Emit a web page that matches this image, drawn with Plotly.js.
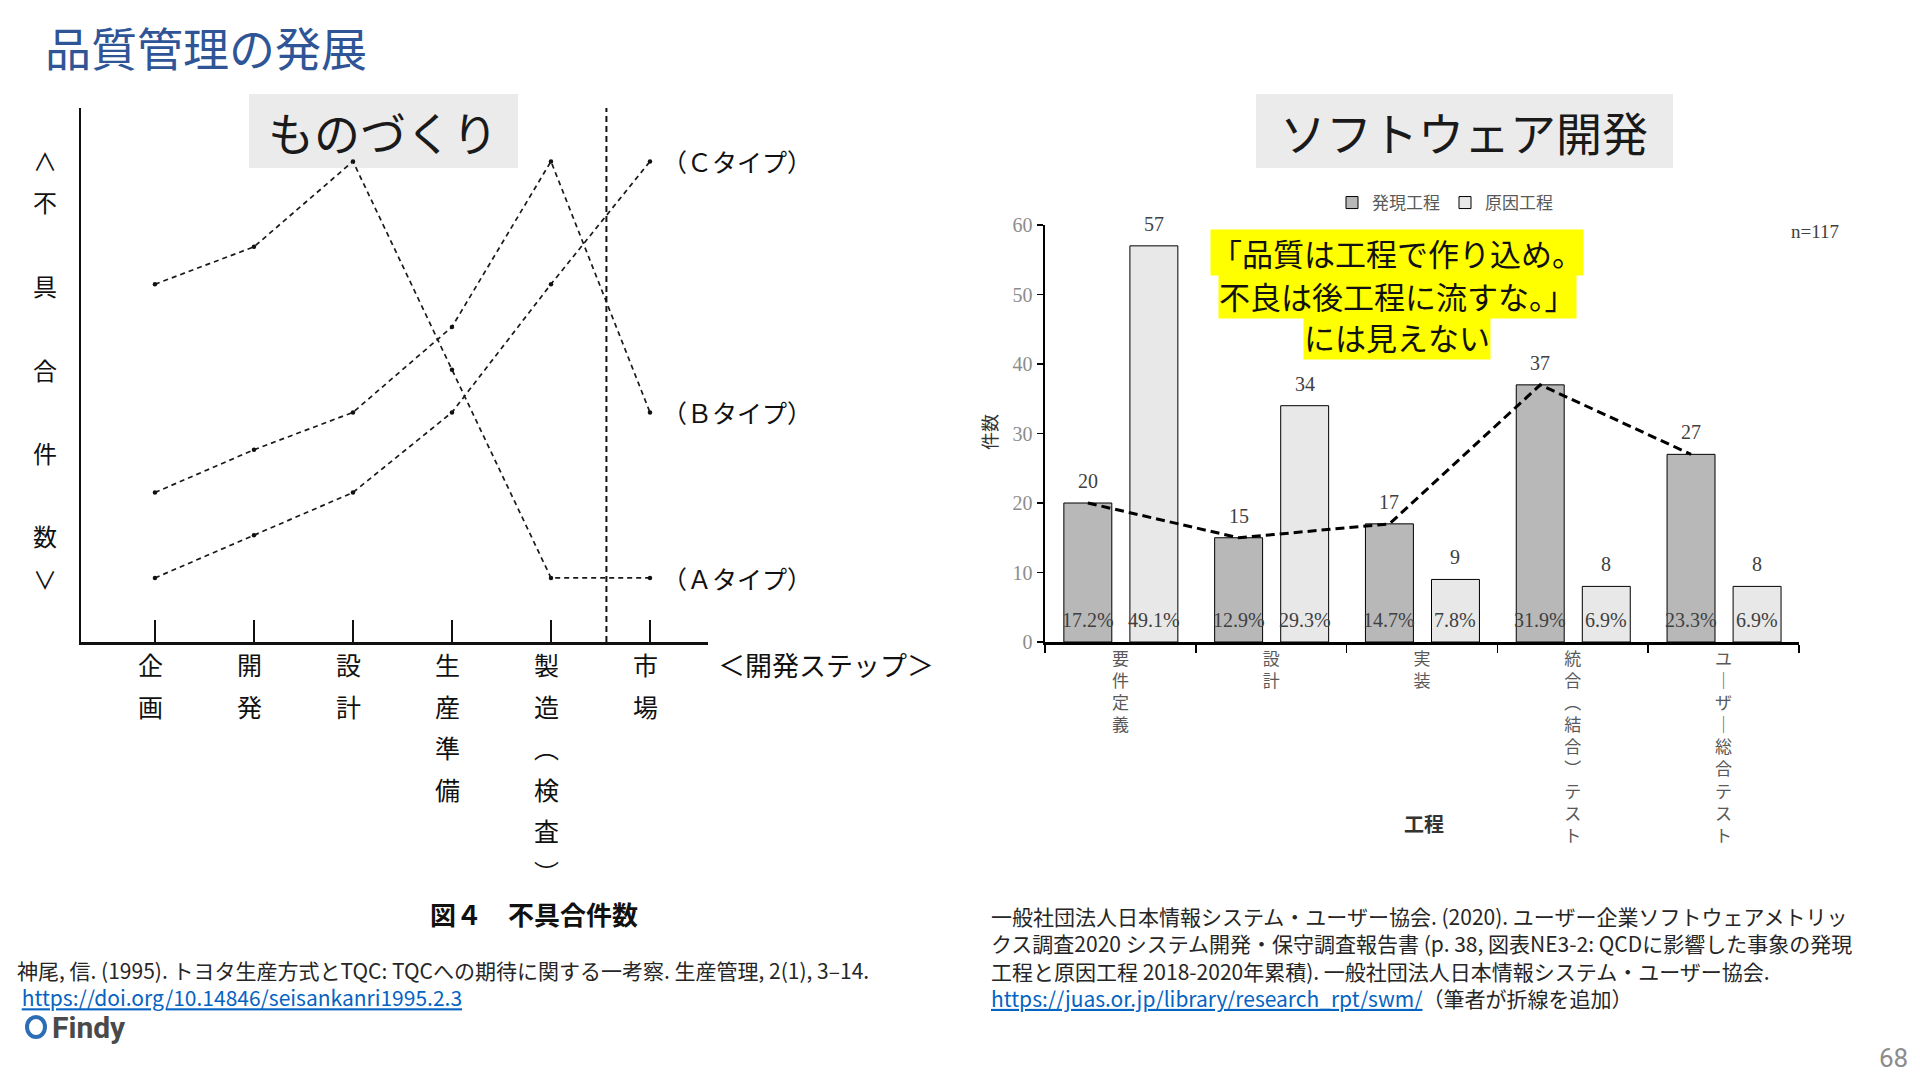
<!DOCTYPE html>
<html><head><meta charset="utf-8">
<script src="https://cdn.plot.ly/plotly-3.0.1.min.js"></script>
<style>html,body{margin:0;padding:0;background:#fff;}#chart{width:1920px;height:1080px;}</style>
</head><body><div id="chart"></div>
<script>
// ---------------- data ----------------
const slideTitle = '品質管理の発展';
const leftHeading = 'ものづくり';
const rightHeading = 'ソフトウェア開発';

const mfgSteps = ['企画', '開発', '設計', '生産準備', '製造（検査）', '市場'];
const mfgTypeNames = ['（Ａタイプ）', '（Ｂタイプ）', '（Ｃタイプ）'];
const mfgTypeA = [67, 74, 90, 51, 12, 12];
const mfgTypeB = [28, 36, 43, 59, 90, 43];
const mfgTypeC = [12, 20, 28, 43, 67, 90];
const mfgShipBoundary = 4.56;
const mfgYLabel = '＜不具合件数＞';
const mfgXLabel = '＜開発ステップ＞';
const mfgCaption = '図４　不具合件数';

const swPhases = ['要件定義', '設計', '実装', '統合（結合）テスト', 'ユーザー総合テスト'];
const swSeries = ['発現工程', '原因工程'];
const swFound = [20, 15, 17, 37, 27];
const swCause = [57, 34, 9, 8, 8];
const swFoundPct = [17.2, 12.9, 14.7, 31.9, 23.3];
const swCausePct = [49.1, 29.3, 7.8, 6.9, 6.9];
const swN = 117;
const swYTitle = '件数';
const swXTitle = '工程';
const swCallout = ['「品質は工程で作り込め。', '不良は後工程に流すな。」', 'には見えない'];

const citeLeft = ['神尾, 信. (1995). トヨタ生産方式とTQC: TQCへの期待に関する一考察. 生産管理, 2(1), 3–14.',
                  'https://doi.org/10.14846/seisankanri1995.2.3'];
const citeRight = ['一般社団法人日本情報システム・ユーザー協会. (2020). ユーザー企業ソフトウェアメトリッ',
                   'クス調査2020 システム開発・保守調査報告書 (p. 38, 図表NE3-2: QCDに影響した事象の発現',
                   '工程と原因工程 2018-2020年累積). 一般社団法人日本情報システム・ユーザー協会.'];
const citeRightUrl = 'https://juas.or.jp/library/research_rpt/swm/';
const citeRightNote = '（筆者が折線を追加）';
const logoText = 'Findy';
const pageNo = '68';

// ---------------- helpers ----------------
const W = 1920, H = 1080;
const px = x => x / W;
const py = y => 1 - y / H;
const JP = 'Noto Sans CJK JP';
const SERIF = 'Liberation Serif';
const vmap = {'（': '︵', '）': '︶', 'ー': '｜'};
const vert = s => Array.from(s).map(c => vmap[c] || c);
const ymap = {'＜': '∧', '＞': '∨'};
const link = u => '<span style="color:#0563C1"><u>' + u + '</u></span>';

const BAR_W = 0.318, FOUND_OFF = -0.375, CAUSE_OFF = 0.063;

// ---------------- traces ----------------
const traces = [];
const mfgLine = {color: '#1a1a1a', width: 1.7, dash: '5px,4px'};
[mfgTypeA, mfgTypeB, mfgTypeC].forEach((vals, k) => {
  traces.push({type: 'scatter', mode: 'lines+markers', x: mfgSteps, y: vals,
    xaxis: 'x', yaxis: 'y', name: mfgTypeNames[k], showlegend: false,
    line: mfgLine, marker: {size: 4.5, color: '#111'}, hoverinfo: 'skip'});
});

traces.push({type: 'bar', x: swPhases, y: swFound, name: swSeries[0], xaxis: 'x2', yaxis: 'y2',
  width: BAR_W, offset: FOUND_OFF, marker: {color: '#B8B8B8', line: {color: '#000', width: 1}}});
traces.push({type: 'bar', x: swPhases, y: swCause, name: swSeries[1], xaxis: 'x2', yaxis: 'y2',
  width: BAR_W, offset: CAUSE_OFF, marker: {color: '#E8E8E8', line: {color: '#000', width: 1}}});
traces.push({type: 'scatter', mode: 'lines', x: swFound.map((_, i) => i + FOUND_OFF + BAR_W / 2), y: swFound,
  xaxis: 'x3', yaxis: 'y2', showlegend: false, line: {color: '#000', width: 3, dash: '9px,5px'}, hoverinfo: 'skip'});

// ---------------- annotations ----------------
const ann = [];
const txt = (x, y, text, size, opts) => Object.assign({xref: 'paper', yref: 'paper', x: px(x), y: py(y), text: text,
  showarrow: false, xanchor: 'center', yanchor: 'middle', font: {family: JP, size: size, color: '#1a1a1a'}}, opts || {});

ann.push(txt(43, 46, slideTitle, 46, {xanchor: 'left', font: {family: JP, size: 46, color: '#2F5597'}}));
ann.push(txt(383, 131, leftHeading, 46));
ann.push(txt(1464, 131, rightHeading, 46));

// left: y label (vertical)
const yRaw = Array.from(mfgYLabel);
let yy = 160;
yRaw.forEach((c, j) => {
  if (j > 0) yy += (ymap[c] || ymap[yRaw[j - 1]]) ? 42 : 83.5;
  ann.push(txt(45, yy, ymap[c] || c, 24, {font: {family: JP, size: 24, color: '#111'}}));
});
// left: category labels (vertical)
mfgSteps.forEach((s, i) => {
  vert(s).forEach((c, j) => {
    ann.push({xref: 'x', yref: 'paper', x: i, y: py(664 + 41.5 * j), text: c, showarrow: false,
      xanchor: 'center', yanchor: 'middle', xshift: -4, font: {family: JP, size: 25, color: '#111'}});
  });
});
ann.push(txt(716, 664, mfgXLabel, 27, {xanchor: 'left', font: {family: JP, size: 27, color: '#111'}}));
// left: type labels at the end of each line
[mfgTypeA, mfgTypeB, mfgTypeC].forEach((vals, k) => {
  ann.push({xref: 'x', yref: 'y', x: mfgSteps.length - 1, y: vals[vals.length - 1], text: mfgTypeNames[k],
    showarrow: false, xanchor: 'left', yanchor: 'middle', xshift: 10, font: {family: JP, size: 25, color: '#111'}});
});
ann.push(txt(534, 913, '<b>' + mfgCaption + '</b>', 26, {font: {family: JP, size: 26, color: '#111'}}));

// right: value labels and percent labels
const barLabel = (xc, y, shift, text, size) => ({xref: 'x3', yref: 'y2', x: xc, y: y, yshift: shift, text: text,
  showarrow: false, xanchor: 'center', yanchor: 'middle', font: {family: SERIF, size: size, color: '#404040'}});
swFound.forEach((v, i) => {
  const xc = i + FOUND_OFF + BAR_W / 2;
  ann.push(barLabel(xc, v, 22, String(v), 20));
  ann.push(barLabel(xc, 0, 22, swFoundPct[i].toFixed(1) + '%', 20));
});
swCause.forEach((v, i) => {
  const xc = i + CAUSE_OFF + BAR_W / 2;
  ann.push(barLabel(xc, v, 22, String(v), 20));
  ann.push(barLabel(xc, 0, 22, swCausePct[i].toFixed(1) + '%', 20));
});
ann.push(txt(1815, 231, 'n=' + swN, 19, {font: {family: SERIF, size: 19, color: '#404040'}}));
ann.push(txt(989, 432, swYTitle, 18, {textangle: -90, font: {family: JP, size: 18, color: '#333'}}));
ann.push(txt(1424, 823, '<b>' + swXTitle + '</b>', 20, {font: {family: JP, size: 20, color: '#333'}}));
// callout
[252, 295, 336].forEach((y, k) => {
  ann.push(txt(1397, y, swCallout[k], 31, {bgcolor: '#FFFF00', borderpad: 0, font: {family: JP, size: 31, color: '#111'}}));
});

// citations (one block each, lines joined with <br>)
const CITE = {family: JP, size: 21, color: '#262626'};
ann.push(txt(15, 983.5, citeLeft[0] + '<br> ' + link(citeLeft[1]), 21, {xanchor: 'left', align: 'left', font: CITE}));
ann.push(txt(989, 956.5, citeRight.join('<br>') + '<br>' + link(citeRightUrl) + citeRightNote, 21,
  {xanchor: 'left', align: 'left', font: CITE}));
// logo & page number
ann.push(txt(50, 1027, '<b>' + logoText + '</b>', 30, {xanchor: 'left', font: {family: 'Roboto', size: 30, color: '#4A4A4A'}}));
ann.push(txt(1910, 1058, pageNo, 26, {xanchor: 'right', font: {family: 'Roboto', size: 26, color: '#8C8C8C'}}));

// ---------------- shapes ----------------
const shapes = [
  {type: 'rect', xref: 'paper', yref: 'paper', x0: px(249), x1: px(518), y0: py(168), y1: py(94), fillcolor: '#EBEBEB', line: {width: 0}, layer: 'below'},
  {type: 'rect', xref: 'paper', yref: 'paper', x0: px(1256), x1: px(1673), y0: py(168), y1: py(94), fillcolor: '#EBEBEB', line: {width: 0}, layer: 'below'},
  {type: 'line', xref: 'x', yref: 'y', x0: mfgShipBoundary, x1: mfgShipBoundary, y0: 0, y1: 100, line: {color: '#111', width: 2, dash: '6px,4px'}},
  {type: 'circle', xref: 'paper', yref: 'paper', x0: px(27), x1: px(45), y0: py(1037), y1: py(1017), line: {color: '#2D6DB5', width: 4}},
];

const layout = {
  width: W, height: H, margin: {l: 0, r: 0, t: 0, b: 0},
  paper_bgcolor: '#fff', plot_bgcolor: 'rgba(0,0,0,0)',
  font: {family: JP, color: '#222'},
  barmode: 'overlay',
  showlegend: true,
  legend: {orientation: 'h', x: px(1445), xanchor: 'center', y: py(203), yanchor: 'middle',
    font: {family: JP, size: 17, color: '#595959'}, bgcolor: 'rgba(0,0,0,0)', itemwidth: 30},
  xaxis: {domain: [px(81), px(708)], anchor: 'y', type: 'category', range: [-0.747, 5.586],
    showline: true, linewidth: 3, linecolor: '#111', ticks: 'inside', ticklen: 22, tickwidth: 2, tickcolor: '#111',
    showticklabels: false, showgrid: false, zeroline: false},
  yaxis: {domain: [py(642), py(108)], anchor: 'x', range: [0, 100], showline: true, linewidth: 2, linecolor: '#111',
    ticks: '', showticklabels: false, showgrid: false, zeroline: false},
  xaxis2: {domain: [px(1045), px(1799)], anchor: 'y2', type: 'category', range: [-0.5, 4.5],
    showline: true, linewidth: 2.5, linecolor: '#000', ticks: 'outside', tickson: 'boundaries', ticklen: 8, tickwidth: 1.5, tickcolor: '#000',
    tickvals: swPhases, ticktext: swPhases.map(s => vert(s).join('<br>')),
    tickfont: {family: JP, size: 17, color: '#595959'}, showgrid: false, zeroline: false},
  xaxis3: {domain: [px(1045), px(1799)], overlaying: 'x2', anchor: 'y2', range: [-0.5, 4.5], visible: false},
  yaxis2: {domain: [py(642), py(225)], anchor: 'x2', range: [0, 60], dtick: 10,
    showline: true, linewidth: 2.5, linecolor: '#000', ticks: 'outside', ticklen: 6, tickwidth: 1.5, tickcolor: '#000',
    tickfont: {family: SERIF, size: 20, color: '#8C8C8C'}, showgrid: false, zeroline: false},
  annotations: ann,
  shapes: shapes
};

Plotly.newPlot('chart', traces, layout, {displayModeBar: false, staticPlot: true});
</script>
</body></html>
